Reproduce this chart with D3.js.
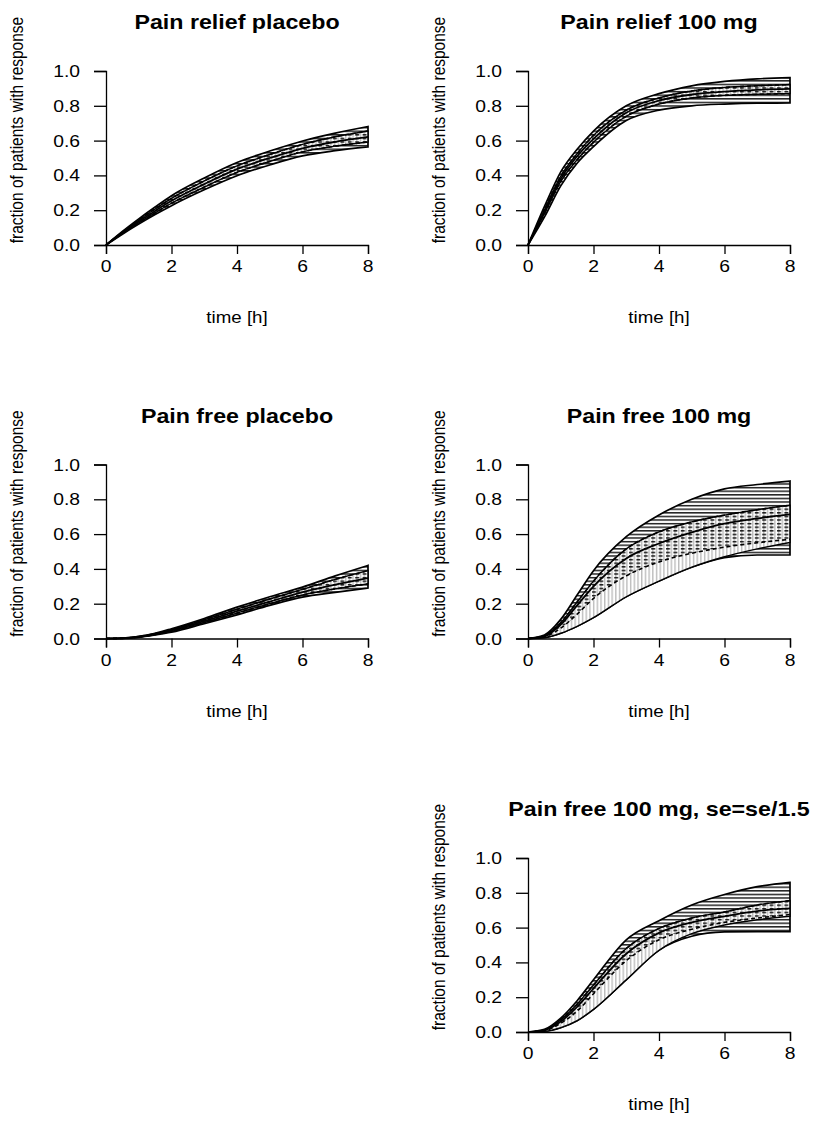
<!DOCTYPE html>
<html>
<head>
<meta charset="utf-8">
<script src="https://cdn.jsdelivr.net/npm/d3@7"></script>
<style>
  body { margin: 0; background: #fff; }
  text { font-family: "Liberation Sans", Arial, sans-serif; fill: #000; }
</style>
</head>
<body>
<svg id="chart" width="814" height="1131"></svg>
<script>
// time grid shared by all curves (hours)
var times = [0, 0.5, 1, 1.5, 2, 3, 4, 5, 6, 7, 8];
var xTicks = [0, 2, 4, 6, 8];
var yTicks = [0, 0.2, 0.4, 0.6, 0.8, 1.0];

// Pain relief placebo
var reliefPlaceboUpper  = [0, 0.078, 0.150, 0.218, 0.283, 0.385, 0.474, 0.540, 0.598, 0.643, 0.681];
var reliefPlaceboLower  = [0, 0.062, 0.120, 0.175, 0.226, 0.317, 0.398, 0.460, 0.512, 0.542, 0.564];
var reliefPlaceboDashUp = [0, 0.074, 0.143, 0.207, 0.268, 0.368, 0.455, 0.520, 0.578, 0.622, 0.655];
var reliefPlaceboDashLo = [0, 0.066, 0.127, 0.185, 0.240, 0.333, 0.417, 0.480, 0.535, 0.568, 0.592];
var reliefPlaceboMedian = [0, 0.070, 0.135, 0.196, 0.254, 0.350, 0.436, 0.500, 0.556, 0.593, 0.621];

// Pain relief 100 mg
var relief100Upper  = [0, 0.22, 0.42, 0.55, 0.655, 0.800, 0.870, 0.915, 0.940, 0.955, 0.962];
var relief100Lower  = [0, 0.16, 0.34, 0.47, 0.565, 0.715, 0.775, 0.800, 0.810, 0.815, 0.816];
var relief100DashUp = [0, 0.20, 0.395, 0.525, 0.630, 0.775, 0.845, 0.885, 0.905, 0.915, 0.922];
var relief100DashLo = [0, 0.18, 0.365, 0.490, 0.590, 0.740, 0.810, 0.845, 0.860, 0.866, 0.870];
var relief100Median = [0, 0.19, 0.380, 0.510, 0.610, 0.760, 0.830, 0.865, 0.882, 0.892, 0.897];

// Pain free placebo
var freePlaceboUpper  = [0, 0.002, 0.012, 0.030, 0.056, 0.115, 0.180, 0.240, 0.295, 0.360, 0.420];
var freePlaceboLower  = [0, 0.001, 0.007, 0.020, 0.036, 0.085, 0.136, 0.190, 0.238, 0.265, 0.290];
var freePlaceboDashUp = [0, 0.002, 0.011, 0.028, 0.051, 0.108, 0.168, 0.227, 0.282, 0.340, 0.390];
var freePlaceboDashLo = [0, 0.001, 0.008, 0.022, 0.041, 0.092, 0.146, 0.200, 0.250, 0.285, 0.314];
var freePlaceboMedian = [0, 0.0015, 0.010, 0.025, 0.046, 0.100, 0.157, 0.212, 0.266, 0.310, 0.347];

// Pain free 100 mg
var free100Upper  = [0, 0.020, 0.110, 0.250, 0.390, 0.585, 0.710, 0.800, 0.860, 0.885, 0.905];
var free100Lower  = [0, 0.005, 0.030, 0.070, 0.120, 0.240, 0.330, 0.410, 0.465, 0.480, 0.480];
var free100GreyLo = [0, 0.005, 0.030, 0.070, 0.120, 0.240, 0.330, 0.410, 0.470, 0.515, 0.552];
var free100DashUp = [0, 0.015, 0.090, 0.210, 0.330, 0.515, 0.613, 0.670, 0.709, 0.740, 0.766];
var free100DashLo = [0, 0.010, 0.060, 0.140, 0.230, 0.360, 0.440, 0.490, 0.525, 0.550, 0.570];
var free100Median = [0, 0.012, 0.080, 0.190, 0.300, 0.460, 0.546, 0.610, 0.660, 0.690, 0.713];

// Pain free 100 mg, se=se/1.5
var free100SeUpper  = [0, 0.015, 0.080, 0.180, 0.300, 0.530, 0.640, 0.730, 0.790, 0.835, 0.860];
var free100SeLower  = [0, 0.004, 0.025, 0.065, 0.130, 0.300, 0.470, 0.550, 0.575, 0.577, 0.577];
var free100SeGreyLo = [0, 0.004, 0.025, 0.065, 0.130, 0.300, 0.470, 0.565, 0.615, 0.645, 0.665];
var free100SeDashUp = [0, 0.012, 0.070, 0.160, 0.270, 0.480, 0.595, 0.655, 0.690, 0.730, 0.755];
var free100SeDashLo = [0, 0.008, 0.050, 0.120, 0.220, 0.410, 0.530, 0.590, 0.630, 0.655, 0.675];
var free100SeMedian = [0, 0.010, 0.060, 0.145, 0.250, 0.450, 0.570, 0.630, 0.665, 0.695, 0.710];

var titles = ["Pain relief placebo", "Pain relief 100 mg", "Pain free placebo",
              "Pain free 100 mg", "Pain free 100 mg, se=se/1.5"];
var xLabel = "time [h]";
var yLabel = "fraction of patients with response";

var panels = [
  { title: titles[0], col: 0, row: 0, up: reliefPlaceboUpper, lo: reliefPlaceboLower,
    greyLo: reliefPlaceboDashLo, dUp: reliefPlaceboDashUp, dLo: reliefPlaceboDashLo, med: reliefPlaceboMedian },
  { title: titles[1], col: 1, row: 0, up: relief100Upper, lo: relief100Lower,
    greyLo: relief100DashLo, dUp: relief100DashUp, dLo: relief100DashLo, med: relief100Median },
  { title: titles[2], col: 0, row: 1, up: freePlaceboUpper, lo: freePlaceboLower,
    greyLo: freePlaceboDashLo, dUp: freePlaceboDashUp, dLo: freePlaceboDashLo, med: freePlaceboMedian },
  { title: titles[3], col: 1, row: 1, up: free100Upper, lo: free100Lower,
    greyLo: free100GreyLo, dUp: free100DashUp, dLo: free100DashLo, med: free100Median },
  { title: titles[4], col: 1, row: 2, up: free100SeUpper, lo: free100SeLower,
    greyLo: free100SeGreyLo, dUp: free100SeDashUp, dLo: free100SeDashLo, med: free100SeMedian }
];

var svg = d3.select("#chart");
var sx = 1.15;          // the original raster was stretched horizontally
var colX = [106, 528];  // x of t = 0
var rowY = [245, 638.5, 1032]; // y of value 0
var pw = 262, ph = 174;

var defs = svg.append("defs");
var hp = defs.append("pattern").attr("id", "hatchH")
    .attr("patternUnits", "userSpaceOnUse").attr("width", 12).attr("height", 3.6);
hp.append("rect").attr("width", 12).attr("height", 1.3).attr("y", 1).attr("fill", "#000");

var vp = defs.append("pattern").attr("id", "hatchV")
    .attr("patternUnits", "userSpaceOnUse").attr("width", 3.7).attr("height", 12);
vp.append("rect").attr("width", 1.3).attr("height", 12).attr("x", 1).attr("fill", "#b8b8b8");

var dp = defs.append("pattern").attr("id", "hatchD")
    .attr("patternUnits", "userSpaceOnUse").attr("width", 7.4).attr("height", 3.6);
dp.append("rect").attr("width", 4).attr("height", 1.3).attr("y", 1).attr("fill", "#000");

function txt(g, x, y, s, size, anchor, weight, rot) {
  return g.append("text")
    .attr("transform", "translate(" + x + "," + y + ") scale(" + sx + ",1)" + (rot ? " rotate(-90)" : ""))
    .attr("text-anchor", anchor)
    .attr("font-size", size)
    .attr("font-weight", weight || "normal")
    .text(s);
}

panels.forEach(function (p) {
  var x0 = colX[p.col], y0 = rowY[p.row];
  var x = d3.scaleLinear([0, 8], [x0, x0 + pw]);
  var y = d3.scaleLinear([0, 1], [y0, y0 - ph]);
  var g = svg.append("g");

  var area = function (a, b) {
    return d3.area().x(function (d, i) { return x(times[i]); })
      .y0(function (d, i) { return y(b[i]); })
      .y1(function (d, i) { return y(a[i]); })
      .curve(d3.curveMonotoneX)(times);
  };
  var line = function (a) {
    return d3.line().x(function (d, i) { return x(times[i]); })
      .y(function (d) { return y(d); })
      .curve(d3.curveMonotoneX)(a);
  };

  // outer band: horizontal black hatching
  g.append("path").attr("d", area(p.up, p.lo))
    .attr("fill", "url(#hatchH)").attr("stroke", "#000").attr("stroke-width", 1.7);
  // grey band: blanks the black hatch, vertical grey hatching
  g.append("path").attr("d", area(p.dUp, p.greyLo)).attr("fill", "#fff");
  g.append("path").attr("d", area(p.dUp, p.greyLo))
    .attr("fill", "url(#hatchV)").attr("stroke", "#000").attr("stroke-width", 1.4);
  // inner band: dashed horizontal hatching
  g.append("path").attr("d", area(p.dUp, p.dLo)).attr("fill", "url(#hatchD)");
  // dashed limits and median
  [p.dUp, p.dLo].forEach(function (a) {
    g.append("path").attr("d", line(a)).attr("fill", "none")
      .attr("stroke", "#000").attr("stroke-width", 1.6).attr("stroke-dasharray", "4,3");
  });
  g.append("path").attr("d", line(p.med)).attr("fill", "none")
    .attr("stroke", "#000").attr("stroke-width", 1.8);

  // axes
  var xa = g.append("g").attr("transform", "translate(0," + y0 + ")")
    .call(d3.axisBottom(x).tickValues(xTicks).tickSize(9).tickFormat(""));
  var ya = g.append("g").attr("transform", "translate(" + x0 + ",0)")
    .call(d3.axisLeft(y).tickValues(yTicks).tickSize(12).tickFormat(""));
  [xa, ya].forEach(function (a) {
    a.select(".domain").attr("stroke", "#000").attr("stroke-width", 1.3);
    a.selectAll(".tick line").attr("stroke", "#000").attr("stroke-width", 1.3);
  });
  xTicks.forEach(function (t) { txt(g, x(t), y0 + 27, d3.format("d")(t), 16.8, "middle"); });
  yTicks.forEach(function (v) { txt(g, x0 - 26, y(v) + 6, d3.format(".1f")(v), 16.8, "end"); });

  txt(g, x0 + pw / 2, y0 + 78, xLabel, 16.3, "middle");
  txt(g, x0 - 83, y0 - 115, yLabel, 15.5, "middle", "normal", true);
  txt(g, x0 + pw / 2, y0 - 216, p.title, 20.2, "middle", "bold");
});
</script>
</body>
</html>
